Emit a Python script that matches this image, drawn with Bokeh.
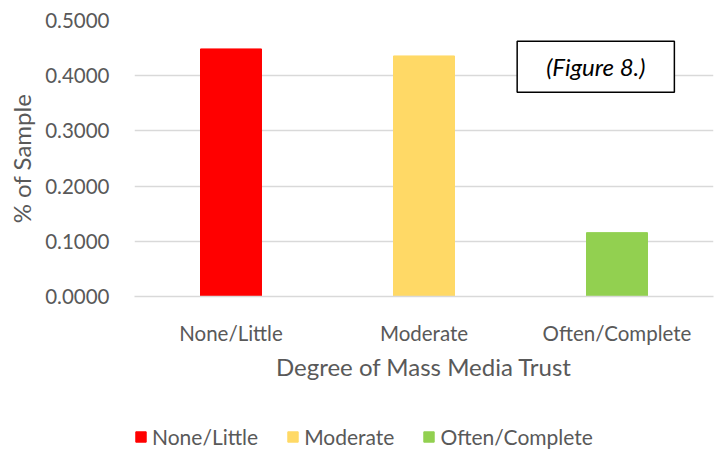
from bokeh.plotting import figure
from bokeh.layouts import column
from bokeh.models import ColumnDataSource, FactorRange, Range1d, Label, Legend, LegendItem, NumeralTickFormatter, FixedTicker
from bokeh.embed import file_html
from bokeh.resources import INLINE

categories = ["None/Little", "Moderate", "Often/Complete"]
values = [0.4485, 0.4358, 0.1157]
colors = ["#FF0000", "#FFD966", "#92D050"]
y_ticks = [0.0, 0.1, 0.2, 0.3, 0.4, 0.5]

FONT = "Lato"
TXT = "#595959"

src = ColumnDataSource(dict(cat=categories, val=values, color=colors))

W = 714
p = figure(width=W, height=412, output_backend="svg", toolbar_location=None,
           x_range=FactorRange(*categories, range_padding=0), y_range=Range1d(0, 0.5),
           min_border_left=134, min_border_right=1, min_border_top=20, min_border_bottom=116)
p.outline_line_color = None

r = p.vbar(x="cat", top="val", width=0.316, color="color", source=src)

p.xgrid.grid_line_color = None
p.ygrid.grid_line_color = "#D9D9D9"
p.ygrid.grid_line_width = 1.3
p.yaxis.ticker = FixedTicker(ticks=y_ticks)
p.yaxis.formatter = NumeralTickFormatter(format="0.0000")

for ax in (p.xaxis, p.yaxis):
    ax.major_tick_line_color = None
    ax.minor_tick_line_color = None
    ax.major_label_text_font = FONT
    ax.major_label_text_color = TXT
    ax.major_label_text_font_size = "20.5px"
    ax.axis_label_text_font = FONT
    ax.axis_label_text_color = TXT
    ax.axis_label_text_font_size = "24px"
    ax.axis_label_text_font_style = "normal"

p.yaxis.axis_line_color = None
p.xaxis.axis_line_color = "#D9D9D9"
p.xaxis.axis_line_width = 1.3
p.yaxis.major_label_standoff = 19
p.xaxis.major_label_standoff = 18
p.xaxis.axis_label = "Degree of Mass Media Trust"
p.yaxis.axis_label = "% of Sample"
p.xaxis.axis_label_standoff = 4
p.yaxis.axis_label_standoff = 6

box = Label(x=2.39, y=0.416, text="(Figure 8.)", text_align="center", text_baseline="middle",
            text_font=FONT, text_font_style="italic", text_font_size="24px", text_color="#000000",
            border_line_color="#000000", border_line_width=1.5, background_fill_color="white",
            padding=(29, 29, 11, 11))
p.add_layout(box)

# legend strip below the chart
lg = figure(width=W, height=37, output_backend="svg", toolbar_location=None,
            x_range=FactorRange(*categories), y_range=Range1d(10, 11),
            x_axis_location=None, y_axis_location=None,
            min_border_left=0, min_border_right=0, min_border_top=0, min_border_bottom=0)
lg.outline_line_color = None
lg.grid.visible = False
r2 = lg.vbar(x="cat", top="val", width=0.316, color="color", source=src)

items = [LegendItem(label=c, renderers=[r2], index=i) for i, c in enumerate(categories)]
legend = Legend(items=items, orientation="horizontal", location=(0, 0),
                glyph_width=13, glyph_height=13, label_standoff=5, spacing=28,
                padding=0, margin=0, border_line_color=None, background_fill_alpha=0,
                label_text_font=FONT, label_text_color=TXT, label_text_font_size="21px")
lg.add_layout(legend, "center")

layout = column(p, lg, spacing=0)
open("out.html", "w").write(file_html(layout, INLINE))
